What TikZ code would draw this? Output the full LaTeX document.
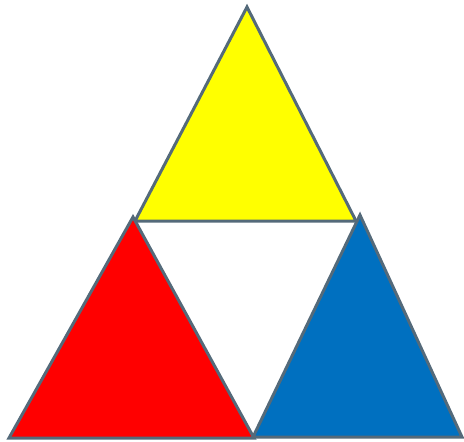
\documentclass[tikz,border=0pt]{standalone}
\usepackage{xcolor}
\definecolor{edgegray}{RGB}{84,106,122}
\definecolor{tyellow}{RGB}{255,255,0}
\definecolor{tred}{RGB}{255,0,0}
\definecolor{tblue}{RGB}{0,112,192}
\begin{document}
\begin{tikzpicture}[x=1pt, y=-1pt]
		\useasboundingbox (0, 0) rectangle (464, 442);
		% Top triangle
		\filldraw[fill=tyellow, draw=edgegray, line width=3pt] (247, 7) -- (356, 221) -- (135, 221) -- cycle;
		
		% Bottom left triangle
		\filldraw[fill=tred, draw=edgegray, line width=3pt] (133, 217) -- (254, 438) -- (9, 438) -- cycle;
		
		% Bottom right triangle
		\filldraw[fill=tblue, draw=edgegray, line width=3pt] (360, 215) -- (462, 437) -- (253, 437) -- cycle;
	\end{tikzpicture}
\end{document}
